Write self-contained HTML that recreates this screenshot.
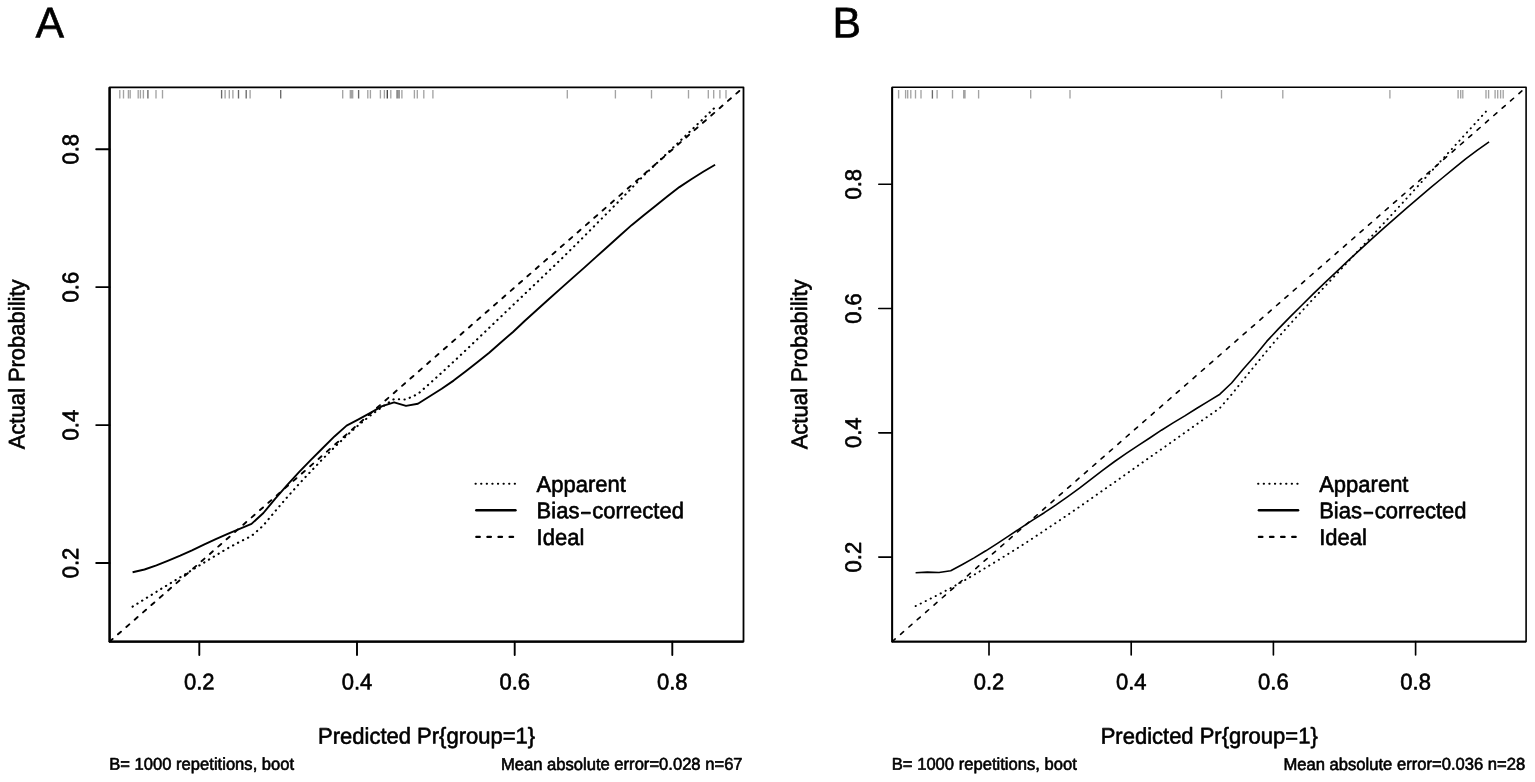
<!DOCTYPE html>
<html lang="en">
<head>
<meta charset="utf-8">
<title>Calibration curves</title>
<style>
html,body{margin:0;padding:0;background:#ffffff;}
body{width:1535px;height:782px;overflow:hidden;}
svg{display:block;}
text{font-family:"Liberation Sans", sans-serif;fill:#000000;stroke:#000000;stroke-linejoin:round;paint-order:stroke;}
.ax{font-size:22px;stroke-width:0.6;}
.sub{font-size:16.6px;stroke-width:0.6;}
.let{font-size:42.8px;stroke-width:0.6;}
.box{fill:none;stroke:#000000;stroke-linejoin:round;}
.tick{fill:none;stroke:#000000;stroke-linecap:round;}
.bias{fill:none;stroke:#000000;stroke-linejoin:round;}
.app{fill:none;stroke:#000000;stroke-dasharray:0.3 5.3;stroke-linecap:round;stroke-linejoin:round;}
.ideal{fill:none;stroke:#000000;stroke-linecap:round;}
</style>
</head>
<body>
<svg width="1535" height="782" viewBox="0 0 1535 782">
<rect x="0" y="0" width="1535" height="782" fill="#ffffff"/>
<g class="panel">
<path d="M119.8 90.1V98.6M123.5 90.1V98.6M128.4 90.1V98.6M130.2 90.1V98.6M138.2 90.1V98.6M140.4 90.1V98.6M143.4 90.1V98.6M156.0 90.1V98.6M162.5 90.1V98.6M225.1 90.1V98.6M229.3 90.1V98.6M232.9 90.1V98.6M250.1 90.1V98.6M342.7 90.1V98.6M350.3 90.1V98.6M351.5 90.1V98.6M352.7 90.1V98.6M367.8 90.1V98.6M370.4 90.1V98.6M380.4 90.1V98.6M384.4 90.1V98.6M390.8 90.1V98.6M401.9 90.1V98.6M414.4 90.1V98.6M417.3 90.1V98.6M423.8 90.1V98.6M432.9 90.1V98.6M567.3 90.1V98.6M615.4 90.1V98.6M651.5 90.1V98.6M688.5 90.1V98.6M708.3 90.1V98.6M713.7 90.1V98.6M719.9 90.1V98.6M726.0 90.1V98.6" stroke="#000" stroke-opacity="0.36" stroke-width="1.35" fill="none"/>
<path d="M147.9 90.1V98.6M221.6 90.1V98.6M238.5 90.1V98.6M246.2 90.1V98.6M280.7 90.1V98.6M358.6 90.1V98.6M397.1 90.1V98.6M399.0 90.1V98.6" stroke="#000" stroke-opacity="0.59" stroke-width="1.35" fill="none"/>
<path d="M387.3 90.1V98.6" stroke="#000" stroke-opacity="0.74" stroke-width="1.35" fill="none"/>
<line x1="109.6" y1="641.6" x2="743.5" y2="87.3" class="ideal" stroke-width="1.9" stroke-dasharray="4 7.1"/>
<polyline points="132.6,606.6 144.5,599.2 156.4,591.8 168.3,584.5 180.2,577.3 192.0,570.0 203.9,562.7 215.8,555.4 227.7,548.3 239.6,541.9 251.5,536.0 263.4,525.4 275.3,511.1 287.1,497.3 299.0,484.0 310.9,471.3 322.8,458.9 334.7,447.0 346.6,435.7 358.5,425.1 370.4,415.5 382.2,406.9 394.1,399.0 406.0,399.5 417.9,394.0 429.8,383.4 441.7,372.7 453.6,361.7 465.5,350.5 477.3,339.2 489.2,327.8 501.1,316.5 513.0,305.1 524.9,293.8 536.8,282.5 548.7,271.1 560.6,259.7 572.4,248.1 584.3,236.2 596.2,224.2 608.1,212.2 620.0,200.1 631.9,187.9 643.8,175.4 655.7,164.2 667.5,152.9 679.4,141.6 691.3,130.2 703.2,118.8 715.1,107.3" class="app" stroke-width="2.1"/>
<polyline points="132.6,572.2 144.5,569.5 156.4,565.3 168.3,560.6 180.2,555.6 192.0,550.3 203.9,544.6 215.8,539.1 227.7,533.8 239.6,528.8 251.5,523.9 263.4,513.0 275.3,498.6 287.1,485.1 299.0,472.2 310.9,459.9 322.8,448.0 334.7,436.2 346.6,425.6 358.5,419.3 370.4,412.8 382.2,406.1 394.1,402.3 406.0,405.9 417.9,403.7 429.8,396.2 441.7,388.8 453.6,380.6 465.5,371.5 477.3,362.2 489.2,352.7 501.1,342.2 513.0,332.0 524.9,320.7 536.8,310.0 548.7,299.3 560.6,288.6 572.4,278.1 584.3,267.6 596.2,256.9 608.1,246.2 620.0,235.5 631.9,224.9 643.8,215.3 655.7,205.7 667.5,196.3 679.4,187.1 691.3,179.2 703.2,171.8 715.1,164.7" class="bias" stroke-width="1.9"/>
<rect x="109.6" y="87.3" width="633.9" height="554.3" class="box" stroke-width="1.8"/>
<path d="M109.6 87.3V641.6H743.5" class="box" stroke-width="2.3"/>
<path d="M199.3 641.6v13.4M357.0 641.6v13.4M514.7 641.6v13.4M672.3 641.6v13.4M109.6 563.0h-13.4M109.6 425.1h-13.4M109.6 287.1h-13.4M109.6 149.2h-13.4" class="tick" stroke-width="1.9"/>
<text transform="translate(199.3 689.6) rotate(-0.03) scale(1.0 1.03)" class="ax" text-anchor="middle">0.2</text>
<text transform="translate(357.0 689.6) rotate(-0.03) scale(1.0 1.03)" class="ax" text-anchor="middle">0.4</text>
<text transform="translate(514.7 689.6) rotate(-0.03) scale(1.0 1.03)" class="ax" text-anchor="middle">0.6</text>
<text transform="translate(672.3 689.6) rotate(-0.03) scale(1.0 1.03)" class="ax" text-anchor="middle">0.8</text>
<text transform="translate(78.3 563.0) rotate(-90.03) scale(1.0 1.03)" class="ax" text-anchor="middle">0.2</text>
<text transform="translate(78.3 425.1) rotate(-90.03) scale(1.0 1.03)" class="ax" text-anchor="middle">0.4</text>
<text transform="translate(78.3 287.1) rotate(-90.03) scale(1.0 1.03)" class="ax" text-anchor="middle">0.6</text>
<text transform="translate(78.3 149.2) rotate(-90.03) scale(1.0 1.03)" class="ax" text-anchor="middle">0.8</text>
<text transform="translate(426.6 743.6) rotate(-0.03) scale(1.0 1.03)" class="ax" text-anchor="middle">Predicted Pr{group=1}</text>
<text transform="translate(24.5 364.4) rotate(-90.03) scale(1.0 1.03)" class="ax" text-anchor="middle">Actual Probability</text>
<text transform="translate(109.2 769.8) rotate(-0.03) scale(1.0 1.03)" class="sub">B= 1000 repetitions, boot</text>
<text transform="translate(742.6 769.8) rotate(-0.03) scale(1.0 1.03)" class="sub" text-anchor="end">Mean absolute error=0.028 n=67</text>
<line x1="475.5" y1="483.75" x2="516.3" y2="483.75" class="app" stroke-width="2.0"/>
<text transform="translate(536.6 491.9) rotate(-0.03) scale(1.0 1.03)" class="ax">Apparent</text>
<line x1="476.3" y1="510.2" x2="515.5" y2="510.2" class="bias" stroke-width="2.4" stroke-linecap="round"/>
<text transform="translate(536.6 518.3) rotate(-0.03) scale(1.0 1.03)" class="ax">Bias<tspan dx="0.5" dy="0.7" textLength="11.8" lengthAdjust="spacingAndGlyphs">-</tspan><tspan dx="0.5" dy="-0.7">corrected</tspan></text>
<line x1="476.3" y1="536.9" x2="516.3" y2="536.9" class="ideal" stroke-width="2.3" stroke-dasharray="3.5 7.6"/>
<text transform="translate(536.6 545.0) rotate(-0.03) scale(1.0 1.03)" class="ax">Ideal</text>
<text transform="translate(35.6 37.6) rotate(-0.03) scale(1.0 1.006)" class="let">A</text>
</g>
<g class="panel">
<path d="M898.6 90.1V98.6M905.6 90.1V98.6M907.7 90.1V98.6M910.8 90.1V98.6M915.5 90.1V98.6M921.0 90.1V98.6M937.1 90.1V98.6M952.5 90.1V98.6M963.7 90.1V98.6M965.0 90.1V98.6M978.6 90.1V98.6M1030.7 90.1V98.6M1070.0 90.1V98.6M1221.5 90.1V98.6M1282.8 90.1V98.6M1389.9 90.1V98.6M1458.1 90.1V98.6M1460.7 90.1V98.6M1462.8 90.1V98.6M1486.0 90.1V98.6M1488.6 90.1V98.6M1495.1 90.1V98.6M1497.7 90.1V98.6M1500.6 90.1V98.6M1503.2 90.1V98.6" stroke="#000" stroke-opacity="0.36" stroke-width="1.35" fill="none"/>
<path d="M932.4 90.1V98.6" stroke="#000" stroke-opacity="0.59" stroke-width="1.35" fill="none"/>
<line x1="892.2" y1="641.6" x2="1526.1" y2="87.3" class="ideal" stroke-width="1.6" stroke-dasharray="4 7.1"/>
<polyline points="915.6,606.1 927.3,600.3 939.0,594.3 950.7,588.1 962.4,581.6 974.1,574.8 985.8,567.7 997.5,560.6 1009.2,553.3 1020.9,546.0 1032.6,538.4 1044.3,530.6 1056.0,522.8 1067.8,514.8 1079.5,506.8 1091.2,498.6 1102.9,490.4 1114.6,482.2 1126.3,473.9 1138.0,465.7 1149.7,457.4 1161.4,449.2 1173.1,441.0 1184.8,432.7 1196.5,424.4 1208.2,416.2 1219.9,408.0 1231.6,394.5 1243.3,379.9 1255.0,365.4 1266.7,351.1 1278.4,337.3 1290.1,324.0 1301.8,311.2 1313.5,298.6 1325.2,286.1 1336.9,273.6 1348.7,261.0 1360.4,248.4 1372.1,235.8 1383.8,223.2 1395.5,210.6 1407.2,197.8 1418.9,185.0 1430.6,172.2 1442.3,159.4 1454.0,146.6 1465.7,133.8 1477.4,121.0 1489.1,108.1" class="app" stroke-width="1.9"/>
<polyline points="915.6,572.8 927.3,572.1 939.0,572.5 950.7,570.8 962.4,564.5 974.1,557.9 985.8,550.8 997.5,543.3 1009.2,535.7 1020.9,527.9 1032.6,520.1 1044.3,512.7 1056.0,504.9 1067.8,496.6 1079.5,488.2 1091.2,479.2 1102.9,470.2 1114.6,461.5 1126.3,453.4 1138.0,445.6 1149.7,438.0 1161.4,430.2 1173.1,422.9 1184.8,415.9 1196.5,408.5 1208.2,401.4 1219.9,394.2 1231.6,383.0 1243.3,369.0 1255.0,355.7 1266.7,341.4 1278.4,328.9 1290.1,316.9 1301.8,305.2 1313.5,293.6 1325.2,282.4 1336.9,271.4 1348.7,260.1 1360.4,249.4 1372.1,238.7 1383.8,228.1 1395.5,217.8 1407.2,207.7 1418.9,197.6 1430.6,187.7 1442.3,178.0 1454.0,168.3 1465.7,158.9 1477.4,150.1 1489.1,141.9" class="bias" stroke-width="1.6"/>
<rect x="892.2" y="87.3" width="633.9" height="554.3" class="box" stroke-width="1.6"/>
<path d="M892.2 87.3V641.6H1526.1" class="box" stroke-width="1.9"/>
<path d="M989.0 641.6v13.4M1131.2 641.6v13.4M1273.4 641.6v13.4M1415.6 641.6v13.4M892.2 557.1h-13.4M892.2 432.8h-13.4M892.2 308.5h-13.4M892.2 184.2h-13.4" class="tick" stroke-width="1.65"/>
<text transform="translate(989.0 689.6) rotate(-0.03) scale(1.0 1.03)" class="ax" text-anchor="middle">0.2</text>
<text transform="translate(1131.2 689.6) rotate(-0.03) scale(1.0 1.03)" class="ax" text-anchor="middle">0.4</text>
<text transform="translate(1273.4 689.6) rotate(-0.03) scale(1.0 1.03)" class="ax" text-anchor="middle">0.6</text>
<text transform="translate(1415.6 689.6) rotate(-0.03) scale(1.0 1.03)" class="ax" text-anchor="middle">0.8</text>
<text transform="translate(860.9 557.1) rotate(-90.03) scale(1.0 1.03)" class="ax" text-anchor="middle">0.2</text>
<text transform="translate(860.9 432.8) rotate(-90.03) scale(1.0 1.03)" class="ax" text-anchor="middle">0.4</text>
<text transform="translate(860.9 308.5) rotate(-90.03) scale(1.0 1.03)" class="ax" text-anchor="middle">0.6</text>
<text transform="translate(860.9 184.2) rotate(-90.03) scale(1.0 1.03)" class="ax" text-anchor="middle">0.8</text>
<text transform="translate(1209.2 743.6) rotate(-0.03) scale(1.0 1.03)" class="ax" text-anchor="middle">Predicted Pr{group=1}</text>
<text transform="translate(807.1 364.4) rotate(-90.03) scale(1.0 1.03)" class="ax" text-anchor="middle">Actual Probability</text>
<text transform="translate(891.8 769.8) rotate(-0.03) scale(1.0 1.03)" class="sub">B= 1000 repetitions, boot</text>
<text transform="translate(1525.2 769.8) rotate(-0.03) scale(1.0 1.03)" class="sub" text-anchor="end">Mean absolute error=0.036 n=28</text>
<line x1="1258.1" y1="483.75" x2="1298.9" y2="483.75" class="app" stroke-width="2.0"/>
<text transform="translate(1319.2 491.9) rotate(-0.03) scale(1.0 1.03)" class="ax">Apparent</text>
<line x1="1258.9" y1="510.2" x2="1298.1" y2="510.2" class="bias" stroke-width="2.4" stroke-linecap="round"/>
<text transform="translate(1319.2 518.3) rotate(-0.03) scale(1.0 1.03)" class="ax">Bias<tspan dx="0.5" dy="0.7" textLength="11.8" lengthAdjust="spacingAndGlyphs">-</tspan><tspan dx="0.5" dy="-0.7">corrected</tspan></text>
<line x1="1258.9" y1="536.9" x2="1298.9" y2="536.9" class="ideal" stroke-width="2.3" stroke-dasharray="3.5 7.6"/>
<text transform="translate(1319.2 545.0) rotate(-0.03) scale(1.0 1.03)" class="ax">Ideal</text>
<text transform="translate(832.6 37.6) rotate(-0.03) scale(1.0 1.006)" class="let">B</text>
</g>
</svg>
</body>
</html>
